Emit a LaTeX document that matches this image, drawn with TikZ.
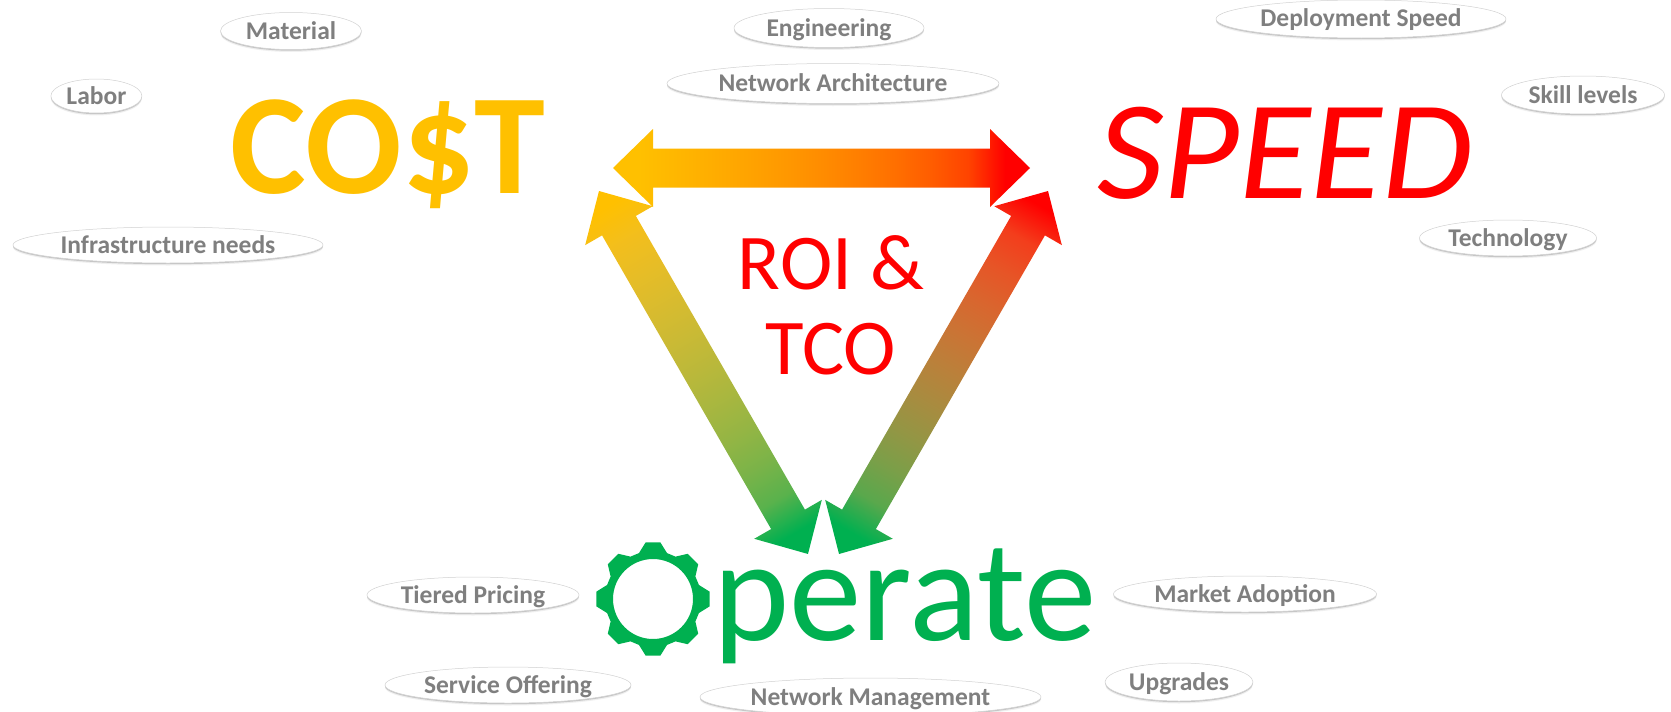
\documentclass[tikz,border=0pt]{standalone}
\usepackage{fontspec}
\usepackage{graphicx}
\setmainfont{Carlito}
\usetikzlibrary{shapes.geometric,shadows,calc}
\definecolor{costc}{HTML}{FFC000}
\definecolor{speedc}{HTML}{FF0000}
\definecolor{opc}{HTML}{00B050}
\definecolor{pillc}{HTML}{7F7F7F}
\pgfdeclarehorizontalshading{topgrad}{100bp}{
  rgb(0bp)=(1,.753,0); rgb(28bp)=(1,.753,0); rgb(32.4bp)=(1,.718,0); rgb(36.8bp)=(1,.680,0);
  rgb(41.2bp)=(1,.640,0); rgb(45.6bp)=(1,.597,0); rgb(50bp)=(1,.550,0); rgb(54.4bp)=(1,.496,0);
  rgb(58.8bp)=(1,.436,0); rgb(63.2bp)=(1,.362,0); rgb(67.6bp)=(1,.264,0); rgb(72bp)=(1,0,0); rgb(100bp)=(1,0,0)}
\pgfdeclarehorizontalshading{leftgrad}{100bp}{
  rgb(0bp)=(1,.753,0); rgb(27bp)=(1,.753,0); rgb(31.5bp)=(.953,.747,.110); rgb(36bp)=(.904,.741,.151);
  rgb(40.5bp)=(.850,.735,.182); rgb(45bp)=(.793,.729,.207); rgb(49.5bp)=(.730,.722,.229);
  rgb(54bp)=(.659,.716,.249); rgb(58.5bp)=(.579,.710,.267); rgb(63bp)=(.481,.703,.284);
  rgb(67.5bp)=(.351,.697,.299); rgb(72bp)=(0,.690,.314); rgb(100bp)=(0,.690,.314)}
\pgfdeclarehorizontalshading{rightgrad}{100bp}{
  rgb(0bp)=(1,0,0); rgb(27bp)=(1,0,0); rgb(31.5bp)=(.953,.242,.110); rgb(36bp)=(.904,.332,.151);
  rgb(40.5bp)=(.850,.399,.182); rgb(45bp)=(.793,.455,.207); rgb(49.5bp)=(.730,.504,.229);
  rgb(54bp)=(.659,.547,.249); rgb(58.5bp)=(.579,.587,.267); rgb(63bp)=(.481,.623,.284);
  rgb(67.5bp)=(.351,.658,.299); rgb(72bp)=(0,.690,.314); rgb(100bp)=(0,.690,.314)}
\tikzset{
  pill/.style={ellipse,draw=black!18,line width=.5pt,fill=white,inner sep=0pt,text=pillc,
    font=\fontsize{25.5}{25.5}\selectfont\bfseries,text height=19pt,text depth=3pt,
    general shadow={shadow xshift=0pt,shadow yshift=-2pt,fill=black!30,opacity=.07,scale=1.03},
    general shadow={shadow xshift=0pt,shadow yshift=-2.5pt,fill=black!30,opacity=.18,scale=1.01},
    general shadow={shadow xshift=0pt,shadow yshift=-1.2pt,fill=black!50,opacity=.35},
    minimum width=#1},
  pill/.default=100pt
}
\newcommand\gradarrow[3]{%
  \path let \p1=(#1),\p2=(#2),\n1={atan2(\y2-\y1,\x2-\x1)},\n2={veclen(\x2-\x1,\y2-\y1)} in
    \pgfextra{\xdef\arang{\n1}\xdef\arlen{\n2}\xdef\arx{\x1}\xdef\ary{\y1}};
  \pgfmathsetlengthmacro\arend{\arlen}
  \pgfmathsetlengthmacro\arback{\arlen-40pt}
  \shade[transform canvas={shift={(\arx,\ary)},rotate=\arang},shading=#3]
    (0pt,0pt)--(40pt,39pt)--(40pt,19.5pt)--(\arback,19.5pt)--(\arback,39pt)--(\arend,0pt)
    --(\arback,-39pt)--(\arback,-19.5pt)--(40pt,-19.5pt)--(40pt,-39pt)--cycle;
}
\begin{document}
\begin{tikzpicture}[x=1pt,y=-1pt]
\useasboundingbox (0,0) rectangle (1671,712);
\coordinate (topL) at (613,168);
\coordinate (topR) at (1030,168);
\coordinate (leftT) at (599,191);
\coordinate (leftB) at (808,554);
\coordinate (rightT) at (1048,191);
\coordinate (rightB) at (839,554);
\gradarrow{topL}{topR}{topgrad}
\gradarrow{leftT}{leftB}{leftgrad}
\gradarrow{rightT}{rightB}{rightgrad}

\node[anchor=base,inner sep=0pt,text=costc,font=\fontsize{143}{143}\selectfont\bfseries] (cost) at (388,193) {CO\$T};
\node[anchor=base,inner sep=0pt,text=speedc,font=\fontsize{141}{141}\selectfont\itshape] (speed) at (1285,198) {\scalebox{1.04}[1]{SPEED}};
\node[inner sep=0pt,text=speedc,align=center,font=\fontsize{79}{85}\selectfont] (roi) at (831,305) {ROI \&\\TCO};
\node[anchor=base west,inner sep=0pt,text=opc,font=\fontsize{145}{145}\selectfont] (op) at (713,640) {perate};
\begin{scope}[shift={(653,599)}]
\fill[opc,even odd rule] (-17:48pt) \foreach \a in {0,45,...,315} {
   -- (\a-17:48pt) -- (\a-7.5:57pt) -- (\a+7.5:57pt) -- (\a+17:48pt) } -- cycle
   (0,0) circle (40pt);
\end{scope}

\node[pill=141pt,minimum height=37pt] (material) at (291,31) {Material};
\node[pill=91pt,minimum height=34pt] (labor) at (96.4,96) {Labor};
\node[pill=310pt,minimum height=36pt] (infra) at (168,245) {Infrastructure needs};
\node[pill=190pt,minimum height=39pt] (eng) at (829,28) {Engineering};
\node[pill=332pt,minimum height=40pt] (net) at (833,83.5) {Network Architecture};
\node[pill=290pt,minimum height=38pt] (deploy) at (1361,19) {Deployment Speed};
\node[pill=163pt,minimum height=38pt] (skill) at (1583,95) {Skill levels};
\node[pill=177pt,minimum height=36pt] (tech) at (1508,238) {Technology};
\node[pill=212pt,minimum height=36pt] (tier) at (473,595) {Tiered Pricing};
\node[pill=246pt,minimum height=36pt] (serv) at (508,685) {Service Offering};
\node[pill=341pt,minimum height=38pt] (mgmt) at (870.5,697) {Network Management};
\node[pill=263pt,minimum height=36pt] (market) at (1245,594) {Market Adoption};
\node[pill=148pt,minimum height=38pt] (upg) at (1179,682) {Upgrades};
\end{tikzpicture}
\end{document}
